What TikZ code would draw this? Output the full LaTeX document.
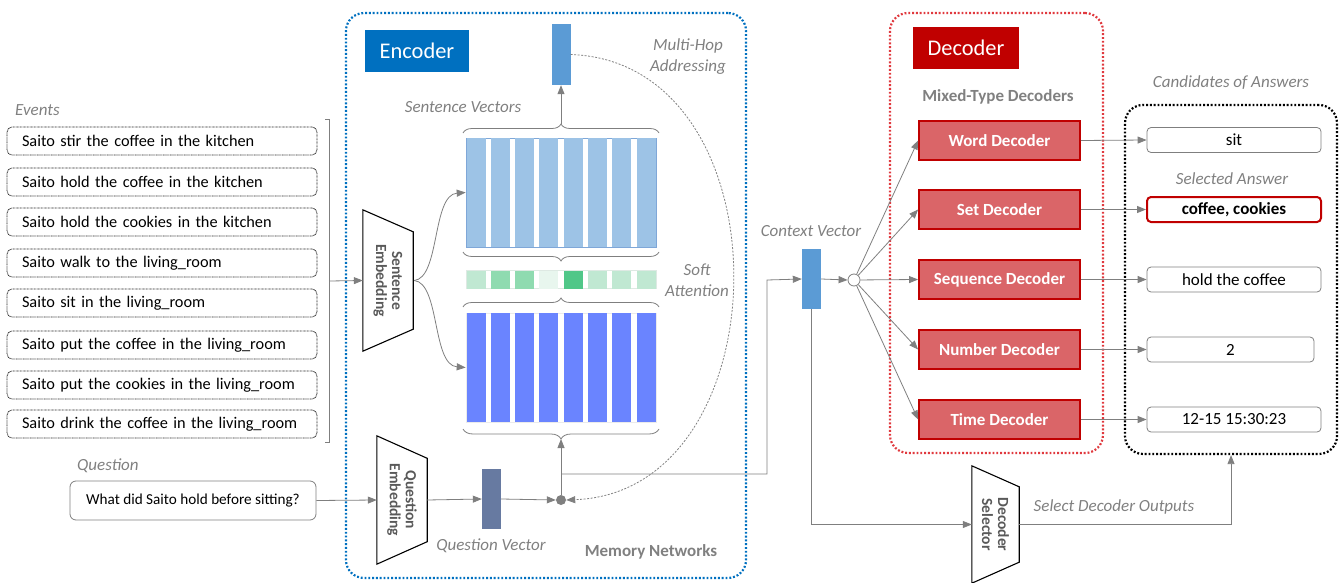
\documentclass[tikz,border=0pt]{standalone}
\usepackage{fontspec}
\setmainfont{Carlito}
\usetikzlibrary{arrows.meta,decorations.pathreplacing,calc}
\definecolor{encblue}{HTML}{0070C0}
\definecolor{decred}{HTML}{C00000}
\definecolor{decfill}{HTML}{DA6568}
\definecolor{dotred}{HTML}{E0393E}
\definecolor{vecblue}{HTML}{5B9BD5}
\definecolor{matA}{HTML}{9DC3E6}
\definecolor{matAb}{HTML}{7FA7D8}
\definecolor{matB}{HTML}{6A84FF}
\definecolor{qvcol}{HTML}{677AA1}
\definecolor{lgray}{HTML}{7F7F7F}
\definecolor{tgray}{HTML}{808080}
\definecolor{bgray}{HTML}{595959}
\definecolor{gA}{HTML}{C0E8D2}
\definecolor{gB}{HTML}{8FDBB0}
\definecolor{gC}{HTML}{E8F6EE}
\definecolor{gD}{HTML}{50C788}
\tikzset{
  gline/.style={draw=lgray, line width=0.8pt},
  garrow/.style={gline, -{Triangle[length=9pt,width=7pt]}},
  evt/.style={draw=black!85, line width=0.8pt, dash pattern=on 0.8pt off 0.6pt, rounded corners=5pt,
    minimum width=310pt, minimum height=28pt, text width=280pt, inner xsep=15pt, inner ysep=0pt,
    align=left, font=\fontsize{16.3}{18}\selectfont},
  ital/.style={text=tgray, font=\fontsize{17}{21}\selectfont\itshape, align=center, inner sep=0pt},
  boldg/.style={text=tgray, font=\fontsize{17}{19}\selectfont\bfseries, align=center, inner sep=0pt},
  emb/.style={draw=none, minimum width=50pt, inner sep=0pt},
  embtext/.style={text=bgray, font=\fontsize{15.5}{16}\selectfont\bfseries, align=center, rotate=-90},
  vec/.style={minimum width=19pt, inner sep=0pt},
  dec/.style={draw=decred, line width=1.8pt, fill=decfill, text=white, font=\fontsize{17}{19}\selectfont\bfseries,
    minimum width=161pt, minimum height=39pt, inner sep=0pt},
  ans/.style={draw=lgray, line width=0.8pt, rounded corners=4pt, minimum height=25pt, inner sep=0pt,
    font=\fontsize{17}{19}\selectfont},
  cont/.style={rounded corners=18pt, line width=2.2pt, dash pattern=on 1.9pt off 1.9pt, inner sep=0pt},
  bracegr/.style={draw=lgray, line width=0.8pt, decorate},
}
\begin{document}
\begin{tikzpicture}[x=1pt,y=-1pt]
\useasboundingbox (0,0) rectangle (1340,583);

% containers
\node[cont, draw=encblue, minimum width=400pt, minimum height=565pt] (enc) at (546,295.5) {};
\node[cont, draw=dotred, minimum width=213pt, minimum height=440pt] (deccont) at (996.5,233) {};
\node[cont, draw=black, minimum width=212pt, minimum height=349pt] (cand) at (1231,279.5) {};

% titles
\node[fill=encblue, text=white, minimum width=104pt, minimum height=42pt, inner sep=0pt,
  font=\fontsize{22.4}{24}\selectfont] (enclab) at (417,51) {Encoder};
\node[fill=decred, text=white, minimum width=106pt, minimum height=42pt, inner sep=0pt,
  font=\fontsize{22.4}{24}\selectfont] (declab) at (966,48) {Decoder};

% events
\node[ital, anchor=west] (evlab) at (15,110) {Events};
\foreach \y/\t [count=\i] in {141/Saito stir the coffee in the kitchen,
  182/Saito hold the coffee in the kitchen,
  222/Saito hold the cookies in the kitchen,
  263/Saito walk to the living\_room,
  303/Saito sit in the living\_room,
  345/Saito put the coffee in the living\_room,
  385/Saito put the cookies in the living\_room,
  424/Saito drink the coffee in the living\_room}
  \node[evt] (e\i) at (162,\y) {\t};

% bracket of events
\coordinate (bt) at (329,119);
\coordinate (bb) at (329,442);
\coordinate (bm) at (329,281);
\draw[gline] ($(bt)+(-4,0)$) -- (bt) -- (bb) -- ($(bb)+(-4,0)$);

% question
\node[ital, anchor=west] (qlab) at (77,466) {Question};
\node[draw=lgray, line width=0.8pt, rounded corners=6pt, minimum width=246pt, minimum height=39pt,
  inner sep=0pt, font=\fontsize{15.2}{17}\selectfont] (qb) at (193,500.5) {What did Saito hold before sitting?};

% sentence embedding
\node[emb, minimum height=141pt] (se) at (388,280.5) {};
\draw[black, line width=1.1pt] (se.north west) -- ($(se.north east)+(0,22)$) -- ($(se.south east)+(0,-22)$) -- (se.south west) -- cycle;
\node[embtext] at (se.center) {Sentence\\Embedding};

% question embedding
\node[emb, minimum height=128pt] (qe) at (402,500) {};
\draw[black, line width=1.1pt] (qe.north west) -- ($(qe.north east)+(0,22.5)$) -- ($(qe.south east)+(0,-22.5)$) -- (qe.south west) -- cycle;
\node[embtext] at (qe.center) {Question\\Embedding};

% decoder selector
\node[emb, minimum width=47pt, minimum height=117pt] (ds) at (995.5,524.5) {};
\draw[black, line width=1.1pt] (ds.north west) -- ($(ds.north east)+(0,21)$) -- ($(ds.south east)+(0,-21)$) -- (ds.south west) -- cycle;
\node[embtext] at (ds.center) {Decoder\\Selector};

% sentence vectors matrix
\node[draw=matAb, line width=0.6pt, minimum width=190pt, minimum height=109pt, inner sep=0pt] (m1) at (561,192.5) {};
\foreach \x in {466.5,490.8,515.1,539.4,563.7,588,612.3,636.6}
  \fill[matA] (\x,138) rectangle ++(19,109);
\node[draw=gA!70!gray!40, line width=0.6pt, minimum width=190pt, minimum height=18.5pt, inner sep=0pt] (att) at (561,279.5) {};
\foreach \x/\c in {466.5/gA,490.8/gB,515.1/gB,539.4/gC,563.7/gD,588/gA,612.3/gA,636.6/gA}
  \fill[\c] (\x,271) rectangle ++(19,18);
\node[draw=black!8, line width=0.6pt, minimum width=190pt, minimum height=109pt, inner sep=0pt] (m2) at (561,367.5) {};
\foreach \x in {466.5,490.8,515.1,539.4,563.7,588,612.3,636.6}
  \fill[matB] (\x,313) rectangle ++(19,109);

% braces
\draw[bracegr, decoration={brace, amplitude=9pt}] (463,133) -- (659,133);
\draw[bracegr, decoration={brace, amplitude=9pt}] (659,252) -- (463,252);
\draw[bracegr, decoration={brace, amplitude=9pt}] (463,307) -- (659,307);
\draw[bracegr, decoration={brace, amplitude=10pt}] (659,429) -- (463,429);
\coordinate (b1) at (561,124);
\coordinate (b4) at (561,439);

% vectors
\node[vec, fill=vecblue, minimum height=61pt] (tv) at (561,54.5) {};
\node[vec, fill=qvcol, minimum height=60pt] (qv) at (491.5,499) {};
\node[vec, fill=vecblue, minimum height=60pt] (cv) at (811.5,279) {};
\node[circle, fill=lgray, minimum size=10pt, inner sep=0pt] (dot) at (561,500) {};
\node[circle, draw=lgray, fill=white, line width=0.8pt, minimum size=12pt, inner sep=0pt] (hub) at (854,280) {};

% labels
\node[ital] (svlab) at (463,107) {Sentence Vectors};
\node[ital] (mhlab) at (688,57) {Multi-Hop\\Addressing};
\node[ital] (salab) at (697,280) {Soft\\Attention};
\node[ital] (qvlab) at (491,546) {Question Vector};
\node[boldg] (mnlab) at (651,552) {Memory Networks};
\node[ital] (cvlab) at (811,231) {Context Vector};
\node[boldg] (mtlab) at (998,97) {Mixed-Type Decoders};
\node[ital] (calab) at (1231,83) {Candidates of Answers};
\node[ital] (selab) at (1232,179) {Selected Answer};
\node[ital] (sdlab) at (1114,507) {Select Decoder Outputs};

% decoders
\node[dec] (d1) at (999.5,140.5) {Word Decoder};
\node[dec] (d2) at (999.5,209.5) {Set Decoder};
\node[dec] (d3) at (999.5,279.5) {Sequence Decoder};
\node[dec] (d4) at (999.5,349.5) {Number Decoder};
\node[dec] (d5) at (999.5,419.5) {Time Decoder};

% answers
\node[ans, minimum width=174pt] (a1) at (1234,140) {sit};
\node[ans, minimum width=174pt, draw=decred, line width=2pt, font=\fontsize{17}{19}\selectfont\bfseries] (a2) at (1234,209.5) {coffee, cookies};
\node[ans, minimum width=174pt] (a3) at (1234,279.5) {hold the coffee};
\node[ans, minimum width=167pt] (a4) at (1230.5,349.5) {2};
\node[ans, minimum width=174pt] (a5) at (1234,419.5) {12-15 15:30:23};

% connectors
\draw[garrow] (bm) -- (se.west);
\draw[garrow] ($(se.east)+(1,0)$) .. controls (440,278) and (432,195) .. (m1.west);
\draw[garrow] ($(se.east)+(1,0)$) .. controls (440,283) and (432,365) .. (m2.west);
\draw[garrow] (b1) -- (tv.south);
\draw[garrow] (qb.east) -- (qe.west);
\draw[garrow] (qe.east) -- (qv.west);
\draw[garrow] (qv.east) -- (dot.west);
\draw[garrow] (dot.north) -- (b4);
\coordinate (j1) at (561,474);
\draw[garrow] (j1) -- (767,474) -- (767,280) -- (cv.west);
\draw[draw=gray, line width=0.8pt, dash pattern=on 2pt off 1.5pt, -{Triangle[length=9pt,width=7pt]}]
  (tv.east) .. controls (790,62) and (785,492) .. (dot.east);
\draw[garrow] (cv.east) -- (hub.west);
\foreach \i in {1,...,5} \draw[garrow] (hub) -- (d\i.west);
\foreach \i in {1,...,5} \draw[garrow] (d\i.east) -- (a\i.west);
\draw[garrow] (cv.south) -- (cv.south |- ds.west) -- (ds.west);
\draw[garrow] (ds.east) -- (ds.east -| cand.south) -- (cand.south);
\end{tikzpicture}
\end{document}
